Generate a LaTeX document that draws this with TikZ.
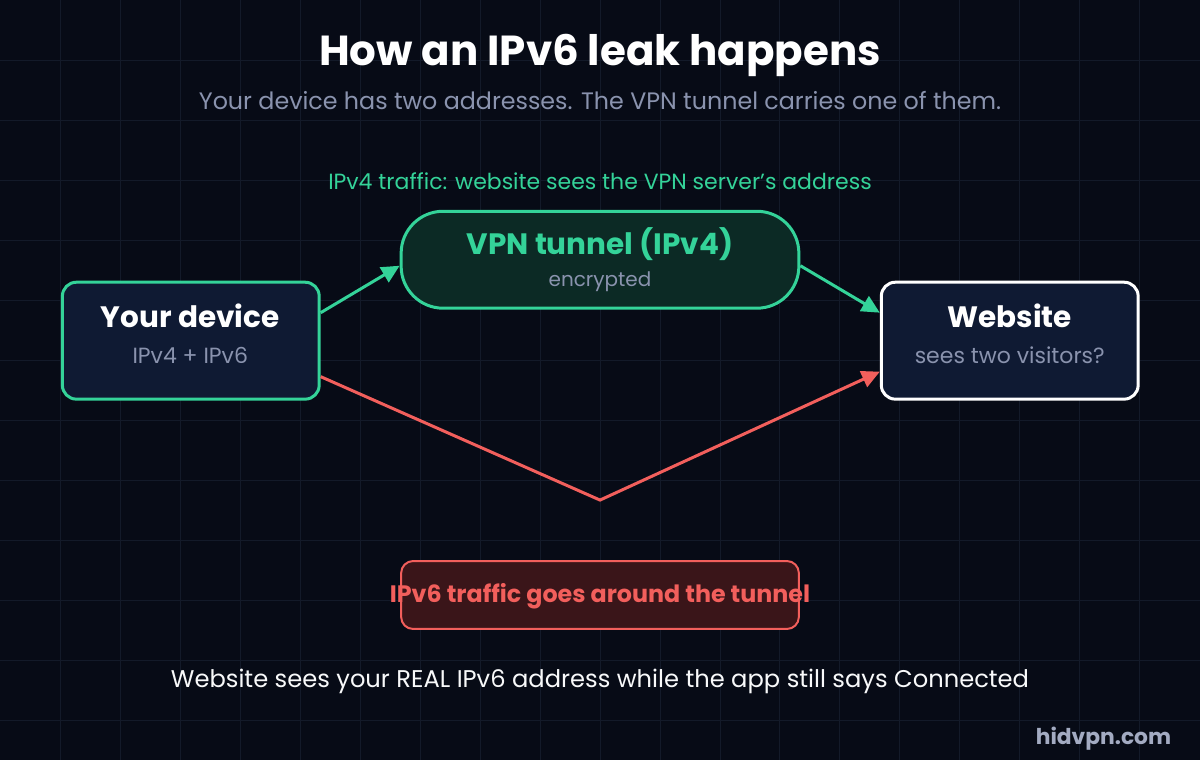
\documentclass[tikz,border=0pt]{standalone}
\usepackage{fontspec}
\setmainfont{Poppins}
\usetikzlibrary{arrows.meta,calc}
\definecolor{bgc}{HTML}{070B16}
\definecolor{gridc}{HTML}{131A29}
\definecolor{okgreen}{HTML}{34D399}
\definecolor{leakred}{HTML}{F25F5C}
\definecolor{boxfill}{HTML}{0F1A33}
\definecolor{tunfill}{HTML}{0C2A25}
\definecolor{redfill}{HTML}{3A1519}
\definecolor{subgray}{HTML}{8A93AE}
\definecolor{markgray}{HTML}{A3ABC2}
\begin{document}
\begin{tikzpicture}[x=1pt, y=-1pt, line width=3pt,
  box/.style={rectangle, rounded corners=14pt, draw, fill=boxfill, minimum width=257pt, minimum height=117pt},
  head/.style={font=\bfseries\fontsize{29.5}{34}\selectfont, text=white},
  sub/.style={font=\fontsize{22}{26}\selectfont, text=subgray},
  tip/.style={-{Triangle[length=18pt,width=17pt]}}]
\fill[bgc] (0,0) rectangle (1200,760);
\foreach \x in {60,120,...,1140} \draw[gridc, line width=0.8pt] (\x,0) -- (\x,760);
\foreach \y in {60,120,...,720} \draw[gridc, line width=0.8pt] (0,\y) -- (1200,\y);
% title
\node[font=\bfseries\fontsize{42}{48}\selectfont, text=white] (title) at (600,55) {How an IPv6 leak happens};
\node[font=\fontsize{23.8}{28}\selectfont, text=subgray] (subtitle) at (600,100) {Your device has two addresses. The VPN tunnel carries one of them.};
% boxes
\node[box, draw=okgreen] (device) at (190.5,340.5) {};
\node[box, draw=white] (web) at (1010,340.5) {};
\node[box, draw=okgreen, fill=tunfill, minimum width=398pt, minimum height=97pt, rounded corners=42pt] (tunnel) at (600,259.5) {};
\node[box, draw=leakred, fill=redfill, minimum width=398pt, minimum height=68pt, rounded corners=12pt, line width=2pt] (leak) at (600,595) {};
% texts
\node[head] (devhead) at (190,316) {Your device};
\node[sub] (devsub) at (190,355) {IPv4 + IPv6};
\node[head] (webhead) at (1010,316) {Website};
\node[sub] (websub) at (1010,355) {sees two visitors?};
\node[head, text=okgreen] (tunhead) at (600,244) {VPN tunnel (IPv4)};
\node[sub, font=\fontsize{20}{24}\selectfont] (tunsub) at (600,281) {encrypted};
\node[font=\fontsize{22}{26}\selectfont, text=okgreen] (ipv4) at (600,181) {IPv4 traffic: website sees the VPN server's address};
\node[font=\bfseries\fontsize{23.8}{28}\selectfont, text=leakred] (leaktxt) at (600,596) {IPv6 traffic goes around the tunnel};
\node[font=\fontsize{24.2}{28}\selectfont, text=white!94!subgray] (bottom) at (600,681) {Website sees your REAL IPv6 address while the app still says Connected};
\node[font=\bfseries\fontsize{21.8}{26}\selectfont, text=markgray, anchor=east, inner sep=0pt] (mark) at (1173,739) {hidvpn.com};
% connectors
\coordinate (bend) at (600,500);
\draw[tip, okgreen] ([yshift=28pt]device.east) -- ([yshift=-6pt]tunnel.west);
\draw[tip, okgreen] ([yshift=-6pt]tunnel.east) -- ([yshift=28pt]web.west);
\draw[tip, leakred, line join=miter] ([yshift=-36pt]device.east) -- (bend) -- ([yshift=-31pt]web.west);
\end{tikzpicture}
\end{document}
